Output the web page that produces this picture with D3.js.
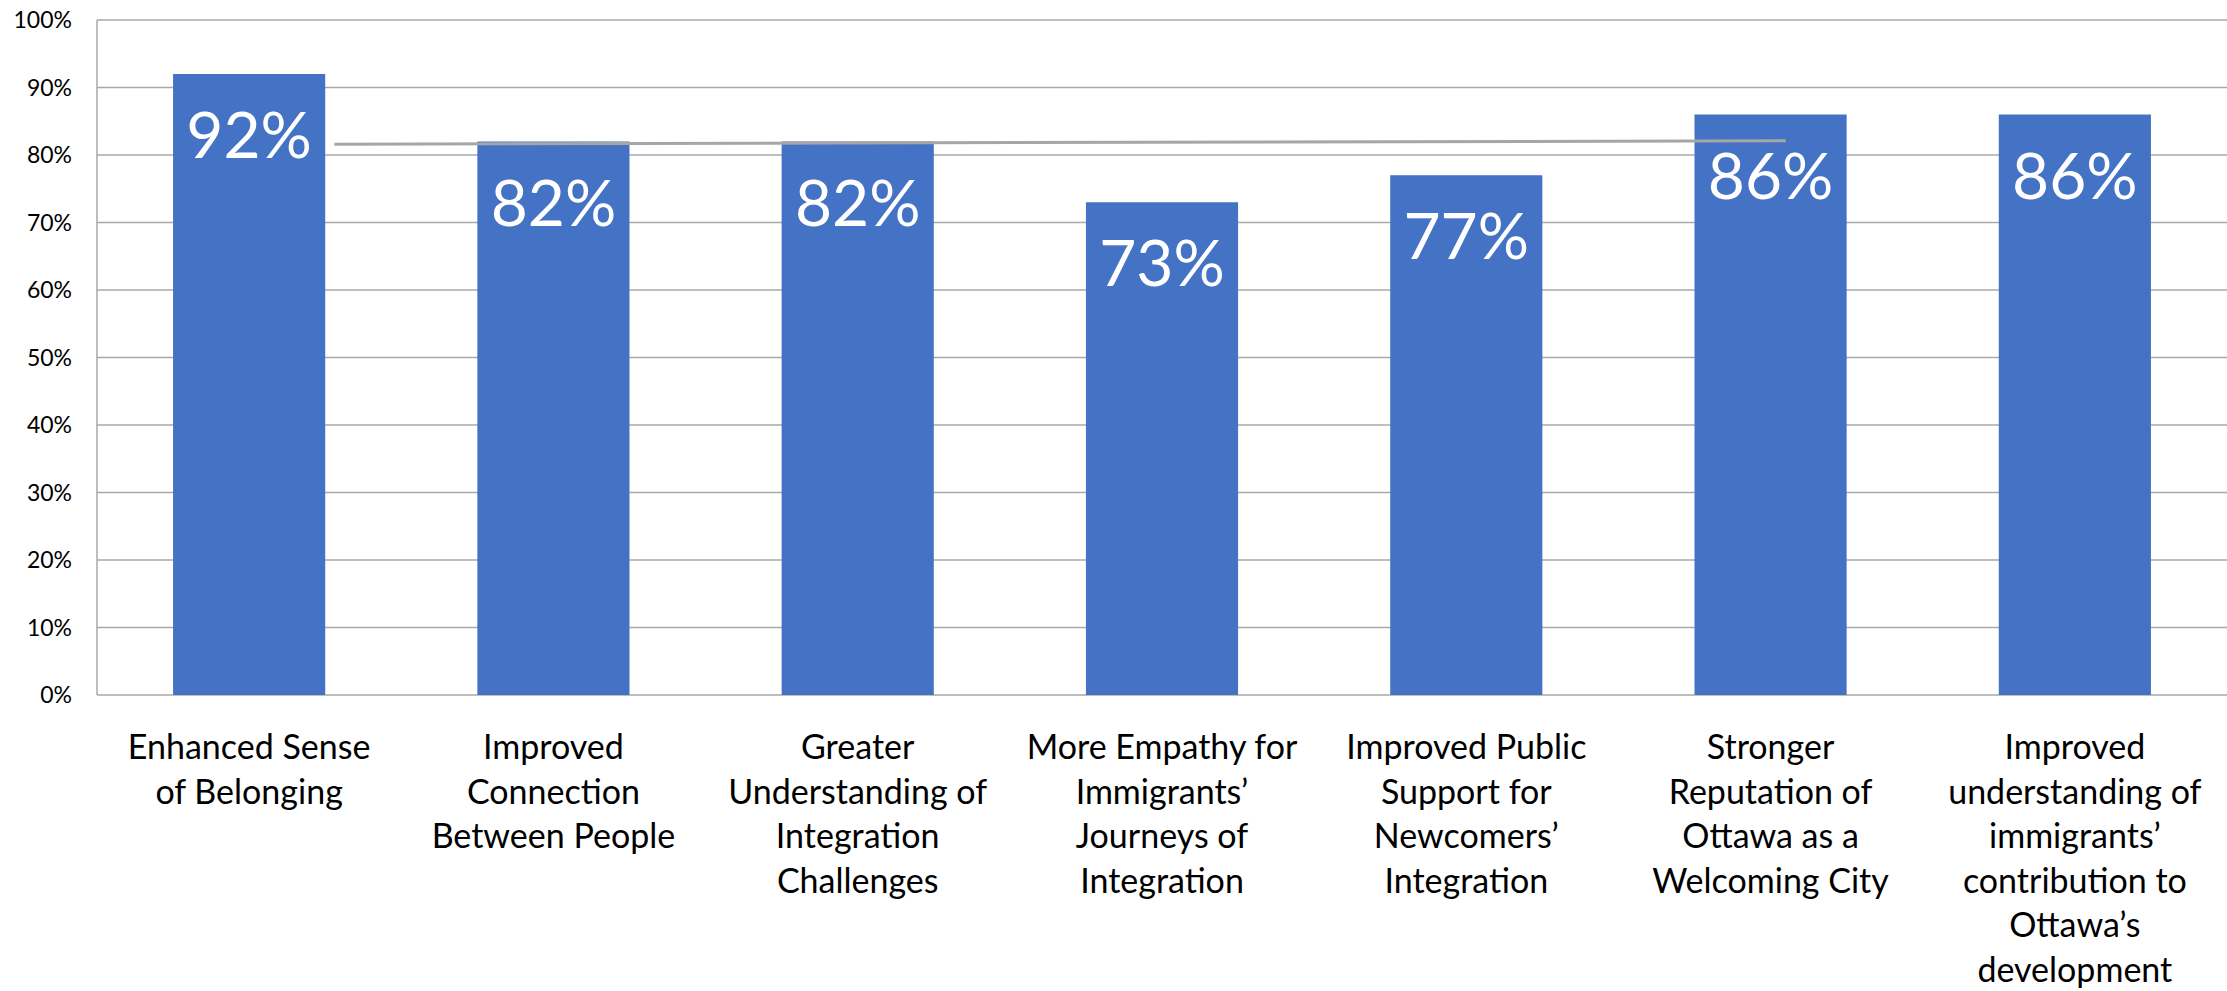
<!DOCTYPE html>
<html>
<head>
<meta charset="utf-8">
<script src="https://cdn.jsdelivr.net/npm/d3@7"></script>
<style>
  html, body { margin: 0; padding: 0; background: #fff; }
  svg { display: block; font-family: Lato, "Open Sans", sans-serif; }
</style>
</head>
<body>
<div class="vis-bar"></div>
<script>
// categories, each one already broken into the lines seen under the axis
const categories = [
  ["Enhanced Sense", "of Belonging"],
  ["Improved", "Connection", "Between People"],
  ["Greater", "Understanding of", "Integration", "Challenges"],
  ["More Empathy for", "Immigrants’", "Journeys of", "Integration"],
  ["Improved Public", "Support for", "Newcomers’", "Integration"],
  ["Stronger", "Reputation of", "Ottawa as a", "Welcoming City"],
  ["Improved", "understanding of", "immigrants’", "contribution to", "Ottawa’s", "development"]
];
const values = [92, 82, 82, 73, 77, 86, 86];
const yTicks = [0, 10, 20, 30, 40, 50, 60, 70, 80, 90, 100];
// the thin grey line drawn across the bars: category index, place inside band, value
const lineCats = [0, 5];
const lineOffsets = [0.78, 0.55];
const lineValues = [81.6, 82.1];

const width = 2227;
const height = 991;
const margin = { top: 20, right: 0, bottom: 296, left: 97 };

const svg = d3
  .select(".vis-bar")
  .append("svg")
  .attr("width", width)
  .attr("height", height);

const x = d3
  .scaleBand()
  .domain(d3.range(categories.length))
  .range([margin.left, width - margin.right])
  .paddingInner(0.5)
  .paddingOuter(0.25);

const y = d3
  .scaleLinear()
  .domain([0, 100])
  .range([height - margin.bottom, margin.top]);

// gridlines
svg
  .append("g")
  .selectAll("line")
  .data(yTicks)
  .enter()
  .append("line")
  .attr("x1", margin.left)
  .attr("x2", width - margin.right)
  .attr("y1", (d) => y(d))
  .attr("y2", (d) => y(d))
  .attr("stroke", "#a9a9a9")
  .attr("stroke-width", 1.5);

// left axis line
svg
  .append("line")
  .attr("x1", margin.left)
  .attr("x2", margin.left)
  .attr("y1", y(100))
  .attr("y2", y(0))
  .attr("stroke", "#a9a9a9")
  .attr("stroke-width", 1.5);

// y tick labels
svg
  .append("g")
  .selectAll("text")
  .data(yTicks)
  .enter()
  .append("text")
  .attr("x", 72)
  .attr("y", (d) => y(d))
  .attr("dy", "0.36em")
  .attr("text-anchor", "end")
  .attr("font-size", 23)
  .attr("fill", "#000")
  .text((d) => d + "%");

// bars
svg
  .append("g")
  .selectAll("rect")
  .data(values)
  .enter()
  .append("rect")
  .attr("x", (d, i) => x(i))
  .attr("width", x.bandwidth())
  .attr("y", (d) => y(d))
  .attr("height", (d) => y(0) - y(d))
  .attr("fill", "#4472C4");

// data labels inside bars
svg
  .append("g")
  .selectAll("text")
  .data(values)
  .enter()
  .append("text")
  .attr("x", (d, i) => x(i) + x.bandwidth() / 2)
  .attr("y", (d) => y(d) + 84)
  .attr("text-anchor", "middle")
  .attr("font-size", 64)
  .attr("fill", "#fff")
  .text((d) => d + "%");

// grey line over the bars
const step = x.step();
const linePts = lineCats.map((c, i) => [
  x(c) - (step - x.bandwidth()) / 2 + step * lineOffsets[i],
  y(lineValues[i])
]);
svg
  .append("path")
  .attr("d", d3.line()(linePts))
  .attr("stroke", "#a6a6a6")
  .attr("stroke-width", 3)
  .attr("fill", "none");

// category labels
const catG = svg
  .append("g")
  .selectAll("text")
  .data(categories)
  .enter()
  .append("text")
  .attr("text-anchor", "middle")
  .attr("font-size", 34)
  .attr("fill", "#000");
catG
  .selectAll("tspan")
  .data((d, i) => d.map((t) => ({ t, i })))
  .enter()
  .append("tspan")
  .attr("x", (d) => x(d.i) + x.bandwidth() / 2)
  .attr("y", (d, j) => 759 + j * 44.5)
  .text((d) => d.t);
</script>
</body>
</html>
